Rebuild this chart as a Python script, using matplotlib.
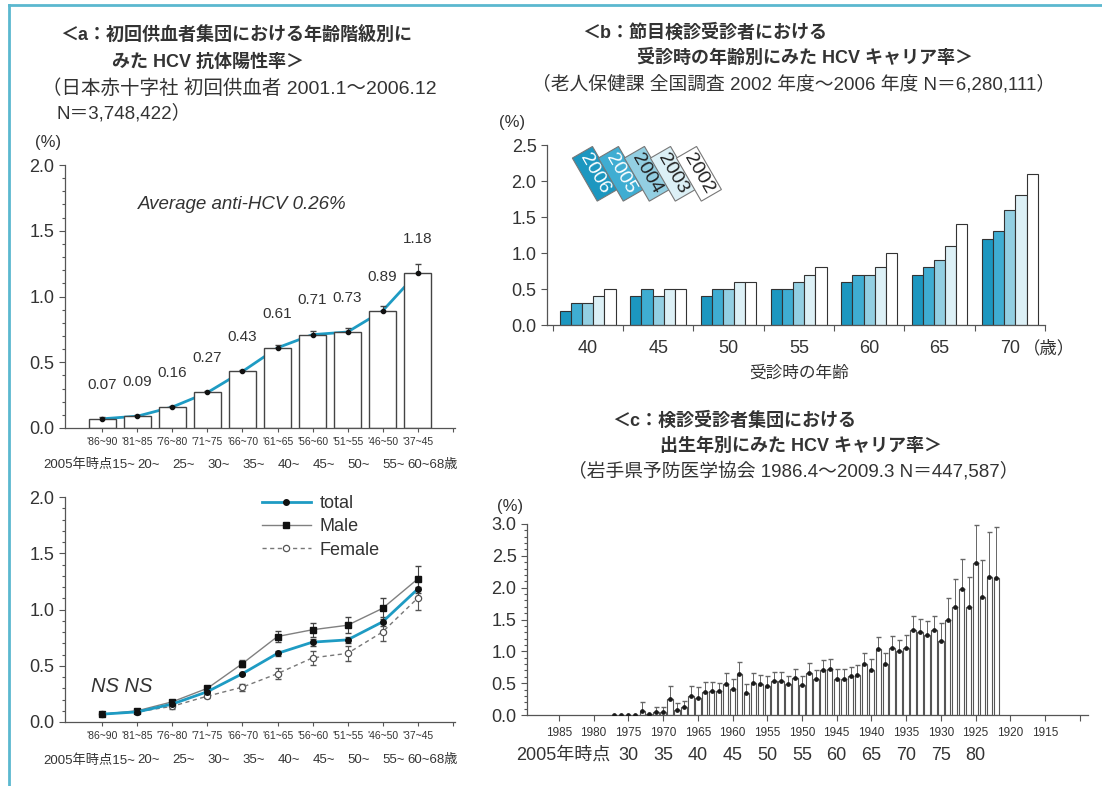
import numpy as np
import matplotlib
matplotlib.use('Agg')
import matplotlib.pyplot as plt
from matplotlib.ticker import MultipleLocator

plt.rcParams['font.family'] = ['Liberation Sans', 'Noto Sans CJK JP', 'DejaVu Sans']

# ---------------- data ----------------
# panel a (first-time blood donors, by birth cohort)
cohorts = ["'86~90", "'81~85", "'76~80", "'71~75", "'66~70",
           "'61~65", "'56~60", "'51~55", "'46~50", "'37~45"]
age_2005 = ["15~", "20~", "25~", "30~", "35~", "40~", "45~", "50~", "55~", "60~68歳"]
total = [0.07, 0.09, 0.16, 0.27, 0.43, 0.61, 0.71, 0.73, 0.89, 1.18]
total_err = [0.01, 0.01, 0.01, 0.01, 0.01, 0.02, 0.03, 0.03, 0.04, 0.07]
male = [0.07, 0.10, 0.18, 0.30, 0.52, 0.76, 0.82, 0.86, 1.01, 1.27]
male_err = [0.01, 0.01, 0.02, 0.02, 0.03, 0.05, 0.06, 0.07, 0.09, 0.12]
female = [0.07, 0.09, 0.14, 0.23, 0.31, 0.43, 0.57, 0.61, 0.80, 1.10]
female_err = [0.01, 0.01, 0.02, 0.02, 0.03, 0.05, 0.06, 0.07, 0.08, 0.10]

# panel b (screening examinees, by age at examination)
exam_ages = [40, 45, 50, 55, 60, 65, 70]
fiscal_years = ['2006', '2005', '2004', '2003', '2002']
rate_2006 = [0.2, 0.4, 0.4, 0.5, 0.6, 0.7, 1.2]
rate_2005 = [0.3, 0.5, 0.5, 0.5, 0.7, 0.8, 1.3]
rate_2004 = [0.3, 0.4, 0.5, 0.6, 0.7, 0.9, 1.6]
rate_2003 = [0.4, 0.5, 0.6, 0.7, 0.8, 1.1, 1.8]
rate_2002 = [0.5, 0.5, 0.6, 0.8, 1.0, 1.4, 2.1]

# panel c (Iwate, by birth year)
birth_years = list(range(1977, 1921, -1))
carrier = [0.00, 0.00, 0.00, 0.00, 0.07, 0.01, 0.05, 0.05, 0.25, 0.08,
           0.12, 0.30, 0.27, 0.36, 0.37, 0.37, 0.48, 0.41, 0.65, 0.35,
           0.51, 0.48, 0.46, 0.53, 0.53, 0.48, 0.58, 0.47, 0.66, 0.56,
           0.71, 0.73, 0.57, 0.57, 0.61, 0.63, 0.80, 0.71, 1.04, 0.80,
           1.05, 1.01, 1.06, 1.33, 1.30, 1.25, 1.33, 1.17, 1.49, 1.70,
           1.98, 1.70, 2.39, 1.86, 2.17, 2.15]
carrier_err = [0.00, 0.00, 0.00, 0.00, 0.13, 0.00, 0.07, 0.07, 0.21, 0.11,
               0.10, 0.16, 0.17, 0.16, 0.15, 0.14, 0.18, 0.16, 0.19, 0.13,
               0.15, 0.15, 0.15, 0.15, 0.15, 0.14, 0.15, 0.15, 0.16, 0.14,
               0.15, 0.15, 0.16, 0.16, 0.15, 0.15, 0.17, 0.17, 0.19, 0.17,
               0.19, 0.17, 0.19, 0.22, 0.21, 0.22, 0.23, 0.27, 0.35, 0.43,
               0.47, 0.47, 0.59, 0.58, 0.71, 0.81]
year_ticks = [1985, 1980, 1975, 1970, 1965, 1960, 1955, 1950, 1945, 1940,
              1935, 1930, 1925, 1920, 1915]
ages_c = [30, 35, 40, 45, 50, 55, 60, 65, 70, 75, 80]

# ---------------- style ----------------
TEAL = '#1e9bc3'
EDGE = '#555555'
TXT = '#333333'
B_COLORS = ['#1c97c0', '#3fadd2', '#93cfe2', '#dcf0f6', '#ffffff']
B_TXT = ['white', 'white', '#222222', '#222222', '#222222']

W, H = 1102, 786
fig = plt.figure(figsize=(W / 100, H / 100), dpi=100)
fig.patch.set_facecolor('white')


def axes_px(l, t, r, b):
    return [l / W, 1 - b / H, (r - l) / W, (b - t) / H]


def ftext(px, py, s, **kw):
    kw.setdefault('color', TXT)
    fig.text(px / W, 1 - py / H, s, va='center', **kw)


def style(ax):
    for s in ['top', 'right']:
        ax.spines[s].set_visible(False)
    for s in ['left', 'bottom']:
        ax.spines[s].set_color(EDGE)
        ax.spines[s].set_linewidth(0.9)
    ax.tick_params(axis='both', which='both', colors=EDGE, labelcolor=TXT,
                   direction='out', width=0.8)
    ax.tick_params(axis='y', which='major', length=4, labelsize=13)
    ax.tick_params(axis='y', which='minor', length=2)


def age_row(ax, ypos):
    tr = ax.get_xaxis_transform()
    ax.text(0.93, ypos, '2005年時点' + age_2005[0], transform=tr, ha='right',
            va='center', fontsize=9.5, color=TXT)
    n = len(age_2005)
    for i in range(1, n - 1):
        ax.text(i + 0.32, ypos, age_2005[i], transform=tr, ha='center',
                va='center', fontsize=9.5, color=TXT)
    ax.text(n - 1.30, ypos, age_2005[-1], transform=tr, ha='left',
            va='center', fontsize=9.5, color=TXT)


# frame lines
fig.add_artist(plt.Line2D([9 / W, 9 / W], [0, 1 - 5 / H], color='#5bb8cf', lw=2))
fig.add_artist(plt.Line2D([9 / W, 1], [1 - 5 / H, 1 - 5 / H], color='#5bb8cf', lw=2))

# ---------------- titles ----------------
ftext(60, 35, '＜a：初回供血者集団における年齢階級別に', fontsize=13, fontweight='bold')
ftext(112, 62, 'みた HCV 抗体陽性率＞', fontsize=13, fontweight='bold')
ftext(42, 88, '（日本赤十字社 初回供血者 2001.1～2006.12', fontsize=14)
ftext(57, 113, 'N＝3,748,422）', fontsize=13.5)
ftext(48, 143, '(%)', fontsize=12, ha='center')

ftext(582, 33, '＜b：節目検診受診者における', fontsize=13, fontweight='bold')
ftext(637, 58, '受診時の年齢別にみた HCV キャリア率＞', fontsize=13, fontweight='bold')
ftext(532, 84, '（老人保健課 全国調査 2002 年度～2006 年度 N＝6,280,111）', fontsize=13.5)
ftext(512, 123, '(%)', fontsize=12, ha='center')

ftext(612, 421, '＜c：検診受診者集団における', fontsize=13, fontweight='bold')
ftext(660, 446, '出生年別にみた HCV キャリア率＞', fontsize=13, fontweight='bold')
ftext(568, 471, '（岩手県予防医学協会 1986.4～2009.3 N＝447,587）', fontsize=13.5)
ftext(510, 507, '(%)', fontsize=12, ha='center')

x10 = np.arange(len(cohorts))

# ---------------- panel a (bars) ----------------
ax1 = fig.add_axes(axes_px(65, 165, 455, 428))
style(ax1)
ax1.plot(x10, total, color=TEAL, lw=2, zorder=1)
ax1.bar(x10, total, width=0.79, color='white', edgecolor='#444444', lw=1.0, zorder=2)
ax1.errorbar(x10, total, yerr=[np.zeros(len(total)), total_err], fmt='o', ms=3,
             color='#111111', ecolor='#444444', elinewidth=0.8, capsize=2.5, zorder=3)
for i, v in enumerate(total):
    ax1.text(i, v + 0.26, f'{v:.2f}', ha='center', va='center', fontsize=11, color=TXT)
ax1.text(4.0, 1.70, 'Average anti-HCV 0.26%', ha='center', va='center',
         fontsize=13.5, style='italic', color=TXT)
ax1.set_xlim(-1.07, 10.07)
ax1.set_ylim(0, 2.0)
ax1.yaxis.set_major_locator(MultipleLocator(0.5))
ax1.yaxis.set_minor_locator(MultipleLocator(0.1))
ax1.yaxis.set_major_formatter(plt.FuncFormatter(lambda v, p: f'{v:.1f}'))
ax1.set_xticks(x10)
ax1.set_xticklabels(cohorts, fontsize=7.5)
ax1.set_xticks([10], minor=True)
ax1.tick_params(axis='x', which='both', length=3)
age_row(ax1, -0.141)

# ---------------- panel a2 (lines) ----------------
ax2 = fig.add_axes(axes_px(65, 497, 455, 722))
style(ax2)
ax2.errorbar(x10, male, yerr=male_err, fmt='none', ecolor='#444444',
             elinewidth=0.8, capsize=2.5, zorder=2)
ax2.errorbar(x10, female, yerr=female_err, fmt='none', ecolor='#555555',
             elinewidth=0.8, capsize=2.5, zorder=2)
ax2.errorbar(x10, total, yerr=total_err, fmt='none', ecolor='#444444',
             elinewidth=0.8, capsize=2.5, zorder=2)
ax2.plot(x10, female, color='#777777', lw=1.0, ls=(0, (3, 2.5)), marker='o', ms=4.5,
         mfc='white', mec='#555555', mew=0.9, label='Female', zorder=3)
ax2.plot(x10, male, color='#808080', lw=1.0, marker='s', ms=4, mfc='#111111',
         mec='#111111', label='Male', zorder=4)
ax2.plot(x10, total, color=TEAL, lw=2.0, marker='o', ms=4, mfc='#111111',
         mec='#111111', label='total', zorder=5)
h, l = ax2.get_legend_handles_labels()
order = [2, 1, 0]
ax2.legend([h[k] for k in order], [l[k] for k in order], loc='upper left',
           bbox_to_anchor=(262 / W, 1 - 495 / H), bbox_transform=fig.transFigure,
           frameon=False, fontsize=13, handlelength=2.7, handletextpad=0.5,
           labelspacing=0.35, borderaxespad=0, borderpad=0, labelcolor=TXT)
ax2.text(-0.33, 0.32, 'NS NS', ha='left', va='center', fontsize=14.5,
         style='italic', color=TXT)
ax2.set_xlim(-1.07, 10.07)
ax2.set_ylim(0, 2.0)
ax2.yaxis.set_major_locator(MultipleLocator(0.5))
ax2.yaxis.set_minor_locator(MultipleLocator(0.1))
ax2.yaxis.set_major_formatter(plt.FuncFormatter(lambda v, p: f'{v:.1f}'))
ax2.set_xticks(x10)
ax2.set_xticklabels(cohorts, fontsize=7.5)
ax2.set_xticks([10], minor=True)
ax2.tick_params(axis='x', which='both', length=3)
age_row(ax2, -0.17)

# ---------------- panel b (grouped bars) ----------------
axb = fig.add_axes(axes_px(547, 145, 1045, 325))
style(axb)
series_b = [rate_2006, rate_2005, rate_2004, rate_2003, rate_2002]
xg = np.arange(len(exam_ages))
bw = 0.158
for k, vals in enumerate(series_b):
    axb.bar(xg + (k - 2) * bw, vals, width=bw, color=B_COLORS[k],
            edgecolor='#333333', lw=0.8, zorder=2)
for k, yr in enumerate(fiscal_years):
    axb.text(0.10 + 0.37 * k, 2.10, yr, rotation=-60, ha='center', va='center',
             fontsize=14, color=B_TXT[k], zorder=5,
             bbox=dict(boxstyle='square,pad=0.16', fc=B_COLORS[k], ec='#777777', lw=0.8))
axb.set_xlim(-0.58, 6.5)
axb.set_ylim(0, 2.5)
axb.yaxis.set_major_locator(MultipleLocator(0.5))
axb.yaxis.set_major_formatter(plt.FuncFormatter(lambda v, p: f'{v:.1f}'))
axb.set_xticks(np.arange(-0.5, 7.0, 1.0))
axb.set_xticklabels([''] * 8)
axb.set_xticks(xg, minor=True)
axb.set_xticklabels([str(a) for a in exam_ages], minor=True, fontsize=13)
axb.tick_params(axis='x', which='major', length=4)
axb.tick_params(axis='x', which='minor', length=0, pad=11)
trb = axb.get_xaxis_transform()
axb.text(6.55, -0.128, '（歳）', transform=trb, ha='center', va='center',
         fontsize=12.5, color=TXT)
axb.text(3.0, -0.265, '受診時の年齢', transform=trb, ha='center', va='center',
         fontsize=12, color=TXT)

# ---------------- panel c (bars by birth year) ----------------
axc = fig.add_axes(axes_px(527, 524, 1088, 715))
style(axc)
by = np.array(birth_years)
cv = np.array(carrier)
ce = np.array(carrier_err)
axc.bar(by, cv, width=0.78, color='white', edgecolor='#555555', lw=0.8, zorder=2)
has_err = ce > 0
axc.errorbar(by[has_err], cv[has_err], yerr=[np.zeros(has_err.sum()), ce[has_err]],
             fmt='none', ecolor='#666666', elinewidth=0.7, capsize=1.8, zorder=3)
axc.plot(by, cv, ls='none', marker='o', ms=2.4, color='#1a1a1a', zorder=4)
axc.set_xlim(1989.6, 1908.8)
axc.set_ylim(0, 3.0)
axc.yaxis.set_major_locator(MultipleLocator(0.5))
axc.yaxis.set_minor_locator(MultipleLocator(0.1))
axc.yaxis.set_major_formatter(plt.FuncFormatter(lambda v, p: f'{v:.1f}'))
axc.set_xticks(year_ticks + [1910])
axc.set_xticklabels([str(y) for y in year_ticks] + [''], fontsize=8.5)
axc.tick_params(axis='x', which='major', length=4, pad=5)
trc = axc.get_xaxis_transform()
axc.text(1977.6, -0.21, '2005年時点', transform=trc, ha='right', va='center',
         fontsize=13, color=TXT)
for a in ages_c:
    axc.text(2005 - a, -0.21, str(a), transform=trc, ha='center', va='center',
             fontsize=13, color=TXT)

fig.savefig('out.png', dpi=100, facecolor='white')
